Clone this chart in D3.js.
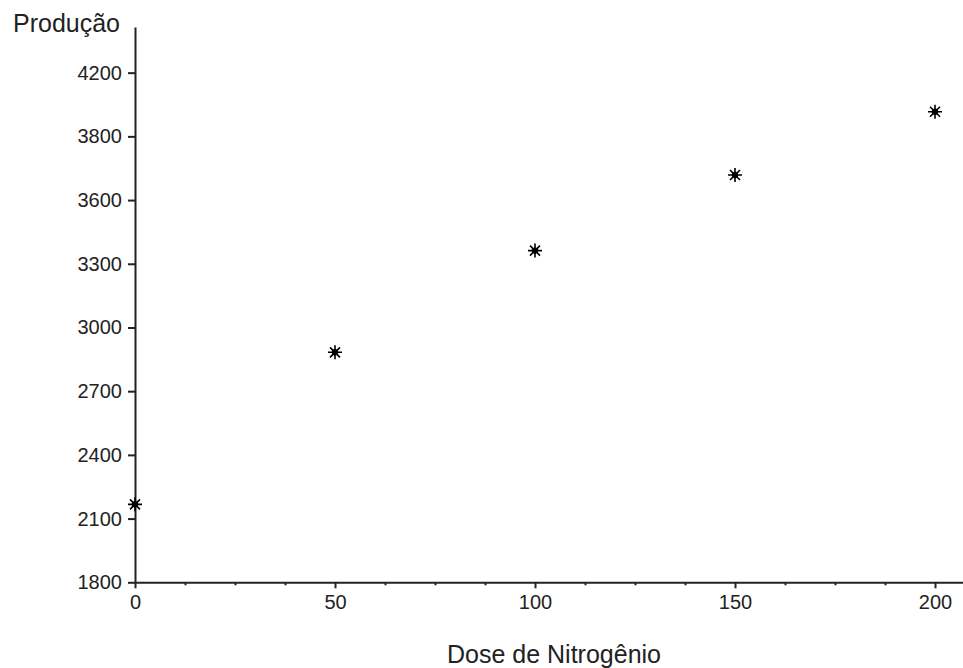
<!DOCTYPE html>
<html>
<head>
<meta charset="utf-8">
<script src="https://cdn.jsdelivr.net/npm/d3@7"></script>
<style>
  html, body { margin: 0; padding: 0; background: #fff; }
  svg { display: block; }
  text { font-family: "Liberation Sans", Arial, sans-serif; fill: #222; }
</style>
</head>
<body>
<svg id="chart" width="963" height="668"></svg>
<script>
// Data
const doses = [0, 50, 100, 150, 200];
const producao = [2167, 2883, 3362, 3718, 4016];
const yTickValues = [1800, 2100, 2400, 2700, 3000, 3300, 3600, 3900, 4200];
const yTickLabels = ["1800", "2100", "2400", "2700", "3000", "3300", "3600", "3800", "4200"];
const xTickValues = [0, 50, 100, 150, 200];
const xMinorTicks = [12.5, 25, 37.5, 62.5, 75, 87.5, 112.5, 125, 137.5, 162.5, 175, 187.5];
const yTitle = "Produção";
const xTitle = "Dose de Nitrogênio";

const svg = d3.select("#chart");
const ink = "#222";

const x = d3.scaleLinear().domain([0, 207]).range([135, 963]);
const y = d3.scaleLinear().domain([1800, 4415]).range([582.3, 27]);

// X axis minor ticks
const gxMinor = svg.append("g").attr("transform", `translate(0,${y(1800)})`)
  .call(d3.axisBottom(x).tickValues(xMinorTicks).tickSize(3).tickSizeOuter(0).tickFormat(""));
gxMinor.select(".domain").remove();

// X axis
const gx = svg.append("g").attr("transform", `translate(0,${y(1800)})`)
  .call(d3.axisBottom(x).tickValues(xTickValues).tickSize(6).tickSizeOuter(0).tickPadding(7));

// Y axis
const labelMap = new Map(yTickValues.map((v, i) => [v, yTickLabels[i]]));
const gy = svg.append("g").attr("transform", `translate(${x(0)},0)`)
  .call(d3.axisLeft(y).tickValues(yTickValues).tickSize(7).tickSizeOuter(0).tickPadding(6)
    .tickFormat(v => labelMap.get(v)));

[gx, gy, gxMinor].forEach(g => {
  g.selectAll(".domain").attr("stroke", ink).attr("stroke-width", 2);
  g.selectAll(".tick line").attr("stroke", ink).attr("stroke-width", 2);
  g.selectAll(".tick text").attr("fill", ink).style("font-size", "20px")
    .style("font-family", '"Liberation Sans", Arial, sans-serif');
});

// Axis titles
svg.append("text").attr("x", 13).attr("y", 32).style("font-size", "25px").text(yTitle);
svg.append("text").attr("x", 554).attr("y", 663).attr("text-anchor", "middle")
  .style("font-size", "25px").text(xTitle);

// Asterisk markers
const star = "M-7,0H7M0,-7V7M-5,-5L5,5M-5,5L5,-5";
const pts = svg.append("g").selectAll("g").data(doses).join("g")
  .attr("transform", (d, i) => `translate(${x(d)},${y(producao[i])})`);
pts.append("path").attr("d", star).attr("stroke", "#000").attr("stroke-width", 1.6).attr("fill", "none");
pts.append("circle").attr("r", 3.2).attr("fill", "#000");
</script>
</body>
</html>
